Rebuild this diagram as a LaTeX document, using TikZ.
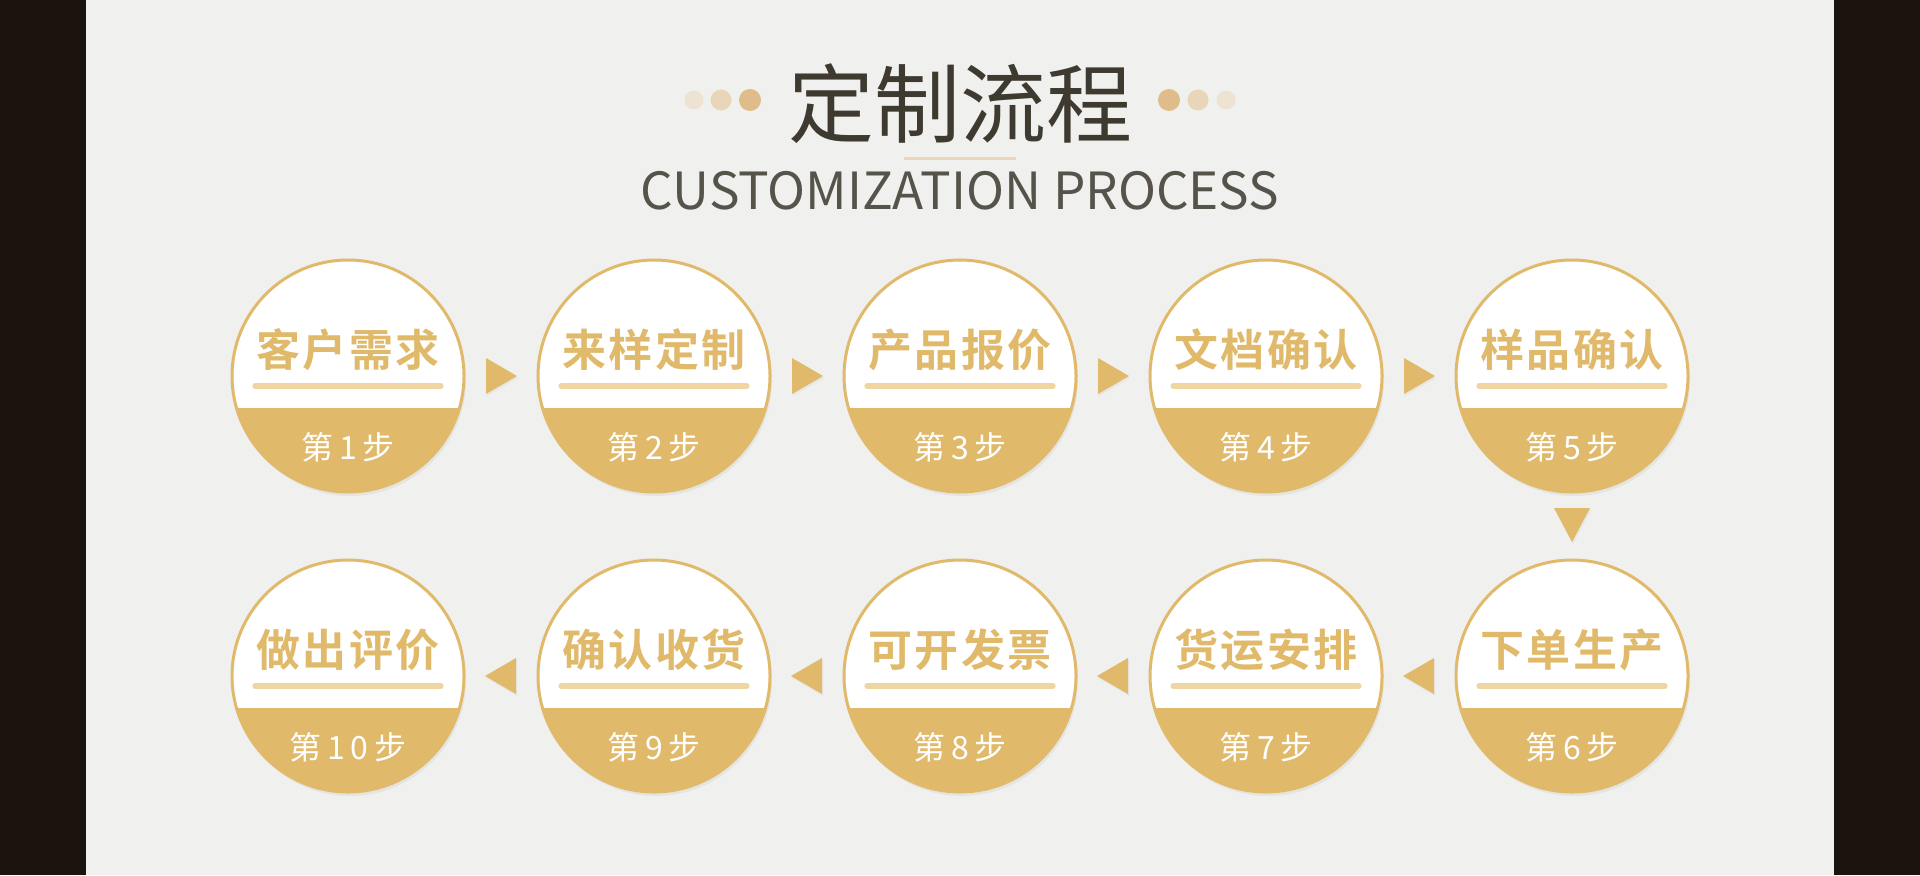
\documentclass[tikz,border=0pt]{standalone}
\usepackage{fontspec}
\usetikzlibrary{calc,shadows}
\setmainfont{Noto Sans CJK SC}
\newfontfamily\labelfont[LetterSpace=6]{Noto Sans CJK SC Bold}
\newfontfamily\stepfont[LetterSpace=18]{Noto Sans CJK SC}
\definecolor{gold}{HTML}{E0BA6A}
\definecolor{paleline}{HTML}{EFD5A2}
\definecolor{ink}{HTML}{3E3A2F}
\definecolor{grayink}{HTML}{56534A}
\definecolor{paper}{HTML}{F0F0EF}
\definecolor{frame}{HTML}{1B130D}
\definecolor{dotlight}{HTML}{EEE3D3}
\definecolor{dotmid}{HTML}{E9D6B8}
\definecolor{dotdark}{HTML}{DEBD8A}
\tikzset{
  stepcircle/.style={circle, draw=gold, line width=1.5pt, fill=white,
    minimum size=116pt, inner sep=0pt,
    drop shadow={opacity=0.10, shadow xshift=1pt, shadow yshift=-2pt},
    path picture={\fill[gold] ([yshift=-16pt]path picture bounding box.west)
      rectangle (path picture bounding box.south east);}},
  steptitle/.style={text=gold, inner sep=0pt, font=\labelfont\fontsize{22pt}{22pt}\selectfont},
  stepno/.style={text=white, inner sep=0pt, font=\stepfont\fontsize{16pt}{16pt}\selectfont},
  underline/.style={paleline, line width=2.6pt, line cap=round},
  arrowtri/.style={fill=gold, drop shadow={opacity=0.08, shadow xshift=0.5pt, shadow yshift=-1pt}}
}
\begin{document}
\begin{tikzpicture}[x=0.5pt,y=0.5pt]
\useasboundingbox (0,0) rectangle (1920,875);
% background and frame
\fill[frame] (0,0) rectangle (1920,875);
\fill[paper] (86,0) rectangle (1834,875);
% heading
\node[text=ink, font=\fontsize{43pt}{43pt}\selectfont] (title) at (960,771) {定制流程};
\fill[dotlight] (694,775) circle (9.5);
\fill[dotmid] (721,775) circle (10.5);
\fill[dotdark] (750,775) circle (11);
\fill[dotdark] (1169,775) circle (11);
\fill[dotmid] (1198,775) circle (10.5);
\fill[dotlight] (1226,775) circle (9.5);
\draw[dotmid, line width=1.5pt] (904,717) -- (1016,717);
\node[text=grayink, font=\fontsize{25.6pt}{25.6pt}\selectfont] (subtitle) at (960,684) {CUSTOMIZATION PROCESS};
% steps
\foreach \i/\x/\y/\name in {1/348/499/客户需求, 2/654/499/来样定制, 3/960/499/产品报价,
    4/1266/499/文档确认, 5/1572/499/样品确认, 6/1572/199/下单生产, 7/1266/199/货运安排,
    8/960/199/可开发票, 9/654/199/确认收货, 10/348/199/做出评价} {
  \node[stepcircle] (s\i) at (\x,\y) {};
  \node[steptitle] at ([yshift=13pt]s\i.center) {\name};
  \draw[underline] ([xshift=-46.5pt,yshift=-5pt]s\i.center) -- ([xshift=46.5pt,yshift=-5pt]s\i.center);
  \node[stepno] at ([yshift=-35.5pt]s\i.center) {第\i 步};
}
% arrows
\foreach \a/\b in {1/2,2/3,3/4,4/5}
  \fill[arrowtri] ($(s\a)!0.5!(s\b)$) ++(-15,18) -- ++(31,-18) -- ++(-31,-18) -- cycle;
\fill[arrowtri] ($(s5)!0.5!(s6)$) ++(-18,18) -- ++(36,0) -- ++(-18,-34) -- cycle;
\foreach \a/\b in {6/7,7/8,8/9,9/10}
  \fill[arrowtri] ($(s\a)!0.5!(s\b)$) ++(15,18) -- ++(-31,-18) -- ++(31,-18) -- cycle;
\end{tikzpicture}
\end{document}
